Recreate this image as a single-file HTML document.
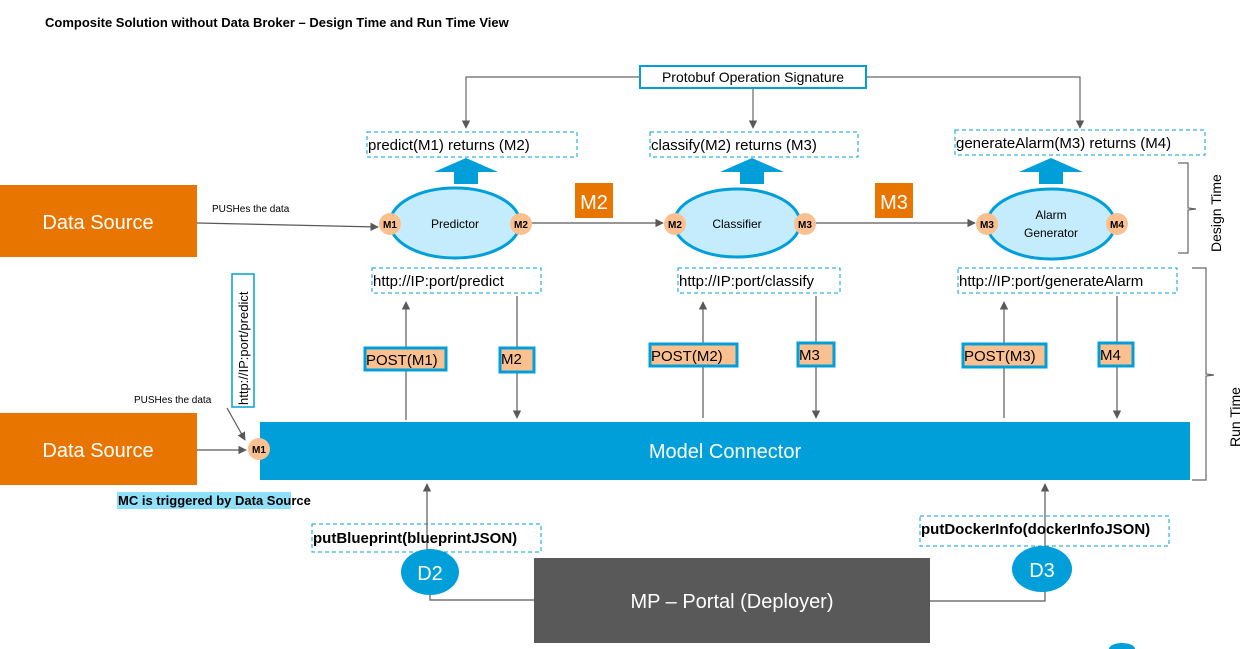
<!DOCTYPE html>
<html><head><meta charset="utf-8"><style>
body{margin:0;background:#fff}
svg{display:block;font-family:"Liberation Sans",sans-serif}
</style></head><body>
<svg width="1245" height="649" viewBox="0 0 1245 649" xmlns="http://www.w3.org/2000/svg">
<defs>
<marker id="a" viewBox="0 0 10 10" refX="9" refY="5" markerWidth="7" markerHeight="7" orient="auto"><path d="M0,0L10,5L0,10z" fill="#595959"/></marker>
</defs>
<text x="45" y="27" font-size="13" font-weight="bold">Composite Solution without Data Broker  – Design Time and Run Time View</text>

<!-- protobuf -->
<g stroke="#666" stroke-width="1.2" fill="none">
<path d="M640,77H466V128" marker-end="url(#a)"/>
<path d="M753,88V128" marker-end="url(#a)"/>
<path d="M866,77H1080V128" marker-end="url(#a)"/>
</g>
<rect x="640" y="66" width="226" height="22" fill="#fff" stroke="#009FDA" stroke-width="2"/>
<text x="753" y="82" font-size="14" text-anchor="middle">Protobuf Operation Signature</text>

<g fill="#fff" stroke="#009FDA" stroke-dasharray="4,3">
<rect x="367" y="132" width="210" height="25"/>
<rect x="650" y="132" width="208" height="25"/>
<rect x="955" y="130" width="250" height="25"/>
<rect x="372" y="268" width="169" height="25"/>
<rect x="678" y="268" width="162" height="25"/>
<rect x="958" y="268" width="219" height="25"/>
<rect x="312" y="524" width="229" height="28"/>
<rect x="920" y="516" width="249" height="30"/>
</g>
<g font-size="15">
<text x="368" y="150">predict(M1) returns (M2)</text>
<text x="651" y="150">classify(M2) returns (M3)</text>
<text x="956" y="148">generateAlarm(M3) returns (M4)</text>
<text x="373" y="286">http://IP:port/predict</text>
<text x="679" y="286">http://IP:port/classify</text>
<text x="959" y="286">http://IP:port/generateAlarm</text>
</g>

<!-- blue up arrows -->
<g fill="#009FDA">
<path d="M434,172L466,158L498,172H478V184H454V172z"/>
<path d="M720,172L752,158L784,172H764V184H740V172z"/>
<path d="M1019,172L1051,158L1083,172H1063V184H1039V172z"/>
</g>

<!-- connections design -->
<g stroke="#595959" stroke-width="1.2" fill="none">
<path d="M197,223L378,227" marker-end="url(#a)"/>
<path d="M531,223H663" marker-end="url(#a)"/>
<path d="M815,223H975" marker-end="url(#a)"/>
</g>
<g fill="#C5ECFC" stroke="#009FDA" stroke-width="3">
<ellipse cx="455" cy="223" rx="65" ry="35"/>
<ellipse cx="737" cy="223" rx="63" ry="34"/>
<ellipse cx="1051" cy="224" rx="64" ry="35"/>
</g>
<g font-size="12" text-anchor="middle">
<text x="455" y="228">Predictor</text>
<text x="737" y="228">Classifier</text>
<text x="1051" y="219">Alarm</text>
<text x="1051" y="237">Generator</text>
</g>
<g fill="#FAC090">
<circle cx="390" cy="224" r="11"/><circle cx="521" cy="224" r="11"/>
<circle cx="675" cy="224" r="11"/><circle cx="805" cy="224" r="11"/>
<circle cx="987" cy="224" r="11"/><circle cx="1117" cy="224" r="11"/>
<circle cx="259" cy="449" r="11"/>
</g>
<g font-size="10" font-weight="bold" text-anchor="middle">
<text x="390" y="228">M1</text><text x="521" y="228">M2</text>
<text x="675" y="228">M2</text><text x="805" y="228">M3</text>
<text x="987" y="228">M3</text><text x="1117" y="228">M4</text>
<text x="259" y="453">M1</text>
</g>

<rect x="575" y="183" width="38" height="35" fill="#E87500"/>
<text x="594" y="209" font-size="20" fill="#fff" text-anchor="middle">M2</text>
<rect x="875" y="183" width="38" height="35" fill="#E87500"/>
<text x="894" y="209" font-size="20" fill="#fff" text-anchor="middle">M3</text>

<rect x="0" y="185" width="197" height="72" fill="#E87500"/>
<text x="98" y="229" font-size="20" fill="#fff" text-anchor="middle">Data Source</text>
<rect x="0" y="413" width="197" height="72" fill="#E87500"/>
<text x="98" y="457" font-size="20" fill="#fff" text-anchor="middle">Data Source</text>
<text x="212" y="212" font-size="10">PUSHes the data</text>
<text x="134" y="403" font-size="10">PUSHes the data</text>

<!-- run time lines -->
<g stroke="#595959" stroke-width="1.2" fill="none">
<path d="M406,420V302" marker-end="url(#a)"/>
<path d="M517,296V418" marker-end="url(#a)"/>
<path d="M703,418V302" marker-end="url(#a)"/>
<path d="M816,296V418" marker-end="url(#a)"/>
<path d="M1004,418V302" marker-end="url(#a)"/>
<path d="M1117,296V418" marker-end="url(#a)"/>
<path d="M197,450H246" marker-end="url(#a)"/>
<path d="M227,408L245,440" marker-end="url(#a)"/>
<path d="M430,560V600H534"/>
<path d="M427,560V484" marker-end="url(#a)"/>
<path d="M930,601H1045V484" marker-end="url(#a)"/>
</g>
<g fill="#FAC090" stroke="#009FDA" stroke-width="3">
<rect x="365" y="348" width="81" height="22"/>
<rect x="500" y="348" width="34" height="24"/>
<rect x="650" y="344" width="87" height="22"/>
<rect x="798" y="343" width="36" height="23"/>
<rect x="963" y="344" width="83" height="23"/>
<rect x="1099" y="343" width="34" height="23"/>
</g>
<g font-size="15">
<text x="366" y="365">POST(M1)</text><text x="501" y="364">M2</text>
<text x="651" y="361">POST(M2)</text><text x="799" y="360">M3</text>
<text x="964" y="361">POST(M3)</text><text x="1100" y="360">M4</text>
</g>

<rect x="260" y="422" width="930" height="58" fill="#009FDA"/>
<circle cx="259" cy="449" r="11" fill="#FAC090"/>
<text x="259" y="453" font-size="10" font-weight="bold" text-anchor="middle">M1</text>
<text x="725" y="458" font-size="20" fill="#fff" text-anchor="middle">Model Connector</text>

<rect x="232" y="274" width="22" height="133" fill="#fff" stroke="#009FDA" stroke-width="1.5"/>
<text transform="translate(248,405) rotate(-90)" font-size="13">http://IP:port/predict</text>

<rect x="117" y="492" width="174" height="17" fill="#8FE0FA"/>
<text x="118" y="505" font-size="13" font-weight="bold">MC is triggered by Data Source</text>

<text x="313" y="543" font-size="15" font-weight="bold">putBlueprint(blueprintJSON)</text>
<text x="921" y="534" font-size="15" font-weight="bold">putDockerInfo(dockerInfoJSON)</text>

<ellipse cx="430" cy="572" rx="29" ry="23" fill="#009FDA"/>
<text x="430" y="580" font-size="20" fill="#fff" text-anchor="middle">D2</text>
<ellipse cx="1042" cy="569" rx="30" ry="23" fill="#009FDA"/>
<text x="1042" y="577" font-size="20" fill="#fff" text-anchor="middle">D3</text>

<rect x="534" y="558" width="396" height="85" fill="#595959"/>
<text x="732" y="608" font-size="20" fill="#fff" text-anchor="middle">MP – Portal (Deployer)</text>

<!-- braces -->
<g stroke="#666" stroke-width="1.2" fill="none">
<path d="M1178,163H1188V208L1196,209L1188,210V253H1178"/>
<path d="M1192,268H1206V374L1214,375L1206,376V480H1192"/>
</g>
<text transform="translate(1221,252) rotate(-90)" font-size="14">Design Time</text>
<text transform="translate(1240,447) rotate(-90)" font-size="14">Run Time</text>
<ellipse cx="1122" cy="649" rx="13" ry="6" fill="#009FDA"/>
</svg>
</body></html>
